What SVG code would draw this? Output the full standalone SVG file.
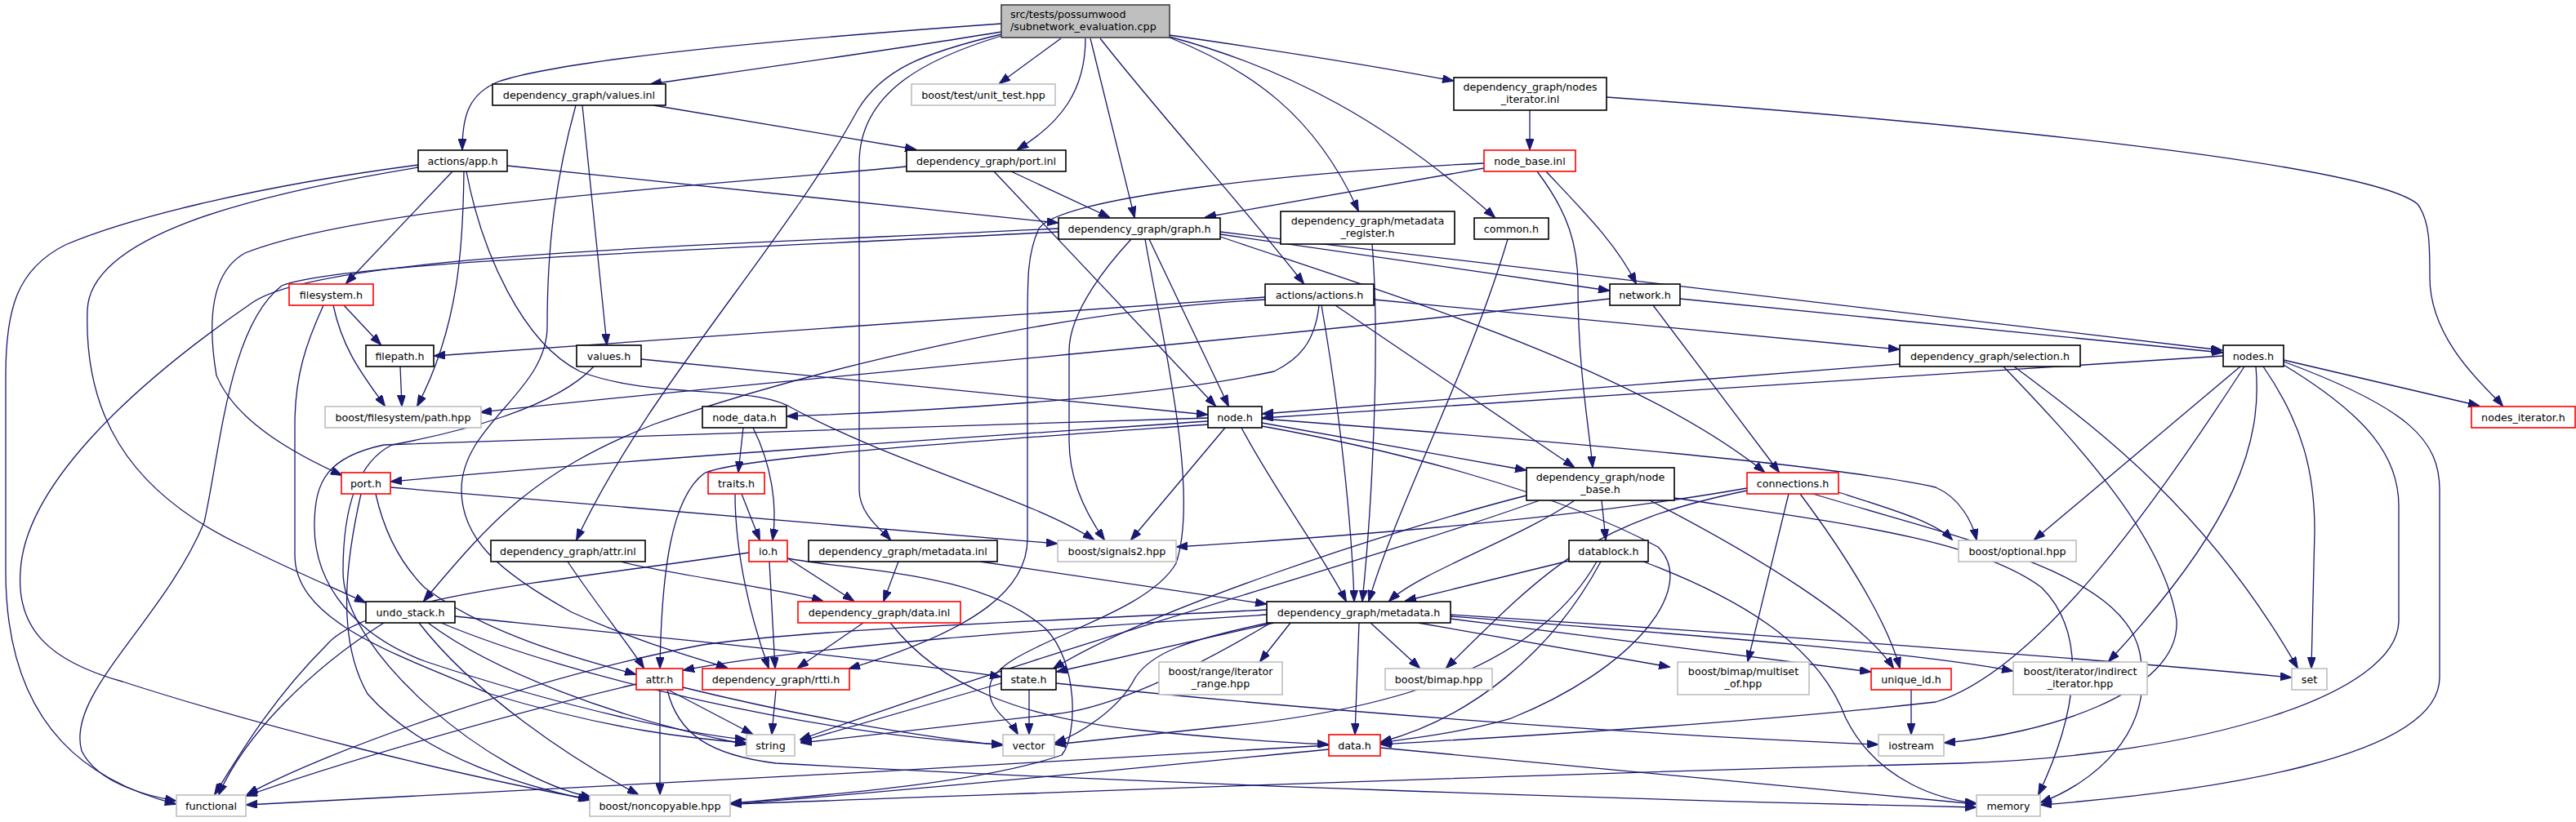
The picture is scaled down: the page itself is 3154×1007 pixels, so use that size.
<svg xmlns="http://www.w3.org/2000/svg" width="3154" height="1007" viewBox="0 0 3154 1007">
<defs>
<marker id="a" markerUnits="userSpaceOnUse" markerWidth="14" markerHeight="10" refX="13" refY="5" orient="auto"><path d="M0,0 L14,5 L0,10 z" fill="#191970" stroke="#191970" stroke-width="1"/></marker>
<style>
.n rect{fill:#fff;stroke:#000;stroke-width:1.6}
.g rect{fill:#fff;stroke:#bfbfbf;stroke-width:1.6}
.r rect{fill:#fff;stroke:#ff0000;stroke-width:1.6}
text{font-family:"DejaVu Sans","Liberation Sans",sans-serif;font-size:12.7px;fill:#000;text-anchor:middle}
#edges path{fill:none;stroke:#191970;stroke-width:1.3;marker-end:url(#a)}
</style>
</defs>
<rect width="3154" height="1007" fill="#fff"/>
<g id="edges">
<path d="M1226,29 C1000,45 700,70 610,100 C575,115 566,140 566,183"/>
<path d="M1226,39 C1100,60 900,88 797,103"/>
<path d="M1226,42 C1130,65 1080,85 1050,135 C960,300 790,480 706,661"/>
<path d="M1226,44 C1140,70 1052,110 1052,200 L1052,600 C1052,630 1080,650 1090,661"/>
<path d="M1299,47 L1224,102"/>
<path d="M1329,47 C1329,110 1300,150 1246,183"/>
<path d="M1335,47 L1389,266"/>
<path d="M1347,47 C1420,140 1520,250 1596,347"/>
<path d="M1432,43 C1550,60 1680,80 1779,99"/>
<path d="M1432,45 C1580,85 1700,150 1830,266"/>
<path d="M1432,46 C1530,85 1610,140 1663,258"/>
<path d="M621,203 L1295,273"/>
<path d="M554,210 L424,347"/>
<path d="M568,210 C567,300 562,400 511,497"/>
<path d="M571,210 C590,310 640,420 710,455 C800,490 920,470 970,500 C1100,570 1260,610 1339,661"/>
<path d="M512,205 C300,240 110,290 107,380 C103,500 150,600 300,670 C360,700 420,725 447,738"/>
<path d="M512,202 C300,230 150,270 80,300 C20,330 7,380 7,460 L7,700 C7,900 120,960 215,985"/>
<path d="M800,129 L1121,183"/>
<path d="M713,129 L743,422"/>
<path d="M705,129 C680,220 670,300 670,400 C670,480 565,520 565,600 C565,660 610,700 700,750 C790,790 860,808 890,818"/>
<path d="M1238,210 L1358,266"/>
<path d="M1217,210 L1488,497"/>
<path d="M1110,204 C900,225 450,250 300,310 C255,335 255,400 265,460 C290,520 370,560 418,582"/>
<path d="M1407,293 L1504,497"/>
<path d="M1385,293 C1360,320 1309,380 1309,430 L1309,540 C1309,590 1330,630 1352,661"/>
<path d="M1402,293 C1420,400 1470,600 1440,690 C1400,760 1220,790 1212,840 C1208,870 1235,880 1246,899"/>
<path d="M1494,290 C1700,360 2000,450 2160,578"/>
<path d="M1494,287 L1970,356"/>
<path d="M1494,284 L2720,429"/>
<path d="M1296,280 C900,300 400,310 310,370 C150,480 30,600 25,700 C20,770 60,810 150,835 C320,890 560,950 721,979"/>
<path d="M1296,284 C900,305 420,320 345,350 C280,400 270,550 250,640 C200,760 80,850 100,920 C120,960 180,975 215,981"/>
<path d="M1873,135 L1873,183"/>
<path d="M1967,119 C2400,150 2900,200 2960,250 C2975,270 2975,300 2975,340 C2975,420 3050,480 3064,497"/>
<path d="M1817,206 L1476,266"/>
<path d="M1817,200 C1600,210 1300,240 1272,280 C1258,310 1258,340 1258,400 L1258,660 C1258,720 1200,770 1040,819"/>
<path d="M1893,210 C1940,260 1980,300 2003,347"/>
<path d="M1882,210 C1920,260 1932,300 1932,350 C1932,450 1945,520 1950,572"/>
<path d="M1680,299 C1690,420 1680,620 1668,736"/>
<path d="M1846,293 C1800,450 1710,620 1676,736"/>
<path d="M1520,524 C1560,600 1620,680 1648,736"/>
<path d="M1618,374 C1640,500 1655,640 1658,736"/>
<path d="M1928,613 C1860,660 1740,700 1701,736"/>
<path d="M1921,687 L1721,736"/>
<path d="M1200,688 L1550,740"/>
<path d="M421,374 L466,422"/>
<path d="M408,374 C420,430 445,460 471,497"/>
<path d="M396,374 C375,420 361,460 361,520 L361,680 C361,760 480,800 600,850 C750,895 850,905 913,910"/>
<path d="M1549,364 L532,436"/>
<path d="M1549,367 C1300,380 1000,450 800,520 C650,580 600,640 519,736"/>
<path d="M1615,374 C1610,420 1590,440 1560,455 C1400,490 1100,505 964,510"/>
<path d="M1635,374 L1927,572"/>
<path d="M1682,367 L2325,428"/>
<path d="M1971,366 C1500,420 900,470 589,505"/>
<path d="M2057,366 L2721,432"/>
<path d="M2024,374 L2178,578"/>
<path d="M490,449 L492,497"/>
<path d="M785,440 L1478,508"/>
<path d="M727,449 C680,500 560,530 480,545 C430,570 420,640 420,700 C420,800 600,950 724,977"/>
<path d="M2326,446 L1546,507"/>
<path d="M2466,449 C2560,520 2700,620 2813,818"/>
<path d="M2453,449 C2550,550 2650,660 2665,760 C2670,850 2500,900 2381,910"/>
<path d="M2722,436 L1546,512"/>
<path d="M2743,449 L2491,661"/>
<path d="M2748,449 C2650,600 2500,820 2370,860 C2100,890 1800,905 1691,912"/>
<path d="M2762,449 C2770,540 2740,640 2582,810"/>
<path d="M2771,449 C2820,520 2834,580 2834,650 L2830,818"/>
<path d="M2796,447 C2900,510 2937,560 2937,620 L2937,760 C2937,850 2700,925 2400,935 C1800,950 1200,975 895,985"/>
<path d="M2796,443 C2950,500 2987,540 2987,600 L2987,830 C2987,930 2700,970 2499,986"/>
<path d="M2796,441 L3035,497"/>
<path d="M910,524 L904,578"/>
<path d="M922,524 C945,570 952,620 946,661"/>
<path d="M908,605 L930,661"/>
<path d="M900,605 C900,680 920,760 941,818"/>
<path d="M942,688 L949,818"/>
<path d="M963,683 L1045,736"/>
<path d="M917,677 C700,710 450,730 400,790 C330,860 290,930 263,973"/>
<path d="M964,684 C1050,700 1200,700 1280,770 C1320,810 1320,900 1300,925 C1200,960 1000,975 895,984"/>
<path d="M1100,688 L1082,736"/>
<path d="M1057,763 L977,818"/>
<path d="M1090,763 C1150,840 1250,880 1400,895 C1500,905 1580,910 1626,912"/>
<path d="M695,688 C730,740 770,790 788,818"/>
<path d="M760,688 C800,700 950,720 1007,736"/>
<path d="M470,763 C380,820 300,900 268,973"/>
<path d="M557,755 C800,780 1100,810 1225,829"/>
<path d="M513,763 C580,850 700,930 781,973"/>
<path d="M524,763 C600,820 750,880 913,912"/>
<path d="M540,763 C700,830 1000,900 1227,912"/>
<path d="M478,597 L1294,666"/>
<path d="M460,605 C470,650 490,690 520,720 C600,780 720,810 778,826"/>
<path d="M442,605 C425,680 410,780 450,850 C520,930 650,965 722,980"/>
<path d="M1479,516 C1200,535 800,560 479,590"/>
<path d="M1479,512 C1200,522 700,535 470,545 C400,560 386,590 385,640 C383,720 440,780 520,810 C700,870 850,900 913,906"/>
<path d="M1479,520 C1200,540 900,560 862,580 C822,610 810,700 808,818"/>
<path d="M1500,524 L1385,661"/>
<path d="M1545,518 L1868,576"/>
<path d="M1545,513 C1900,540 2250,570 2370,597 C2400,610 2415,640 2420,661"/>
<path d="M1545,522 C1700,550 1900,600 2030,670 C2080,720 2000,820 1850,880 C1780,900 1720,905 1691,910"/>
<path d="M1961,613 L1966,661"/>
<path d="M2050,610 C2250,640 2420,660 2500,720 C2560,780 2540,880 2496,973"/>
<path d="M2020,613 C2150,680 2280,760 2318,818"/>
<path d="M1869,607 C1700,650 1400,750 1290,819"/>
<path d="M1885,613 C1700,680 1300,790 980,906"/>
<path d="M2251,603 C2320,625 2370,640 2390,661"/>
<path d="M2139,598 C1900,640 1600,660 1441,670"/>
<path d="M2139,601 C1950,640 1900,690 1771,818"/>
<path d="M2190,605 L2140,810"/>
<path d="M2204,605 C2260,680 2310,760 2326,818"/>
<path d="M2220,605 C2400,660 2600,700 2620,800 C2640,900 2560,960 2499,983"/>
<path d="M1960,688 C1900,800 1800,880 1691,909"/>
<path d="M1955,688 C1880,820 1700,870 1500,890 C1400,900 1330,908 1292,912"/>
<path d="M2012,688 C2150,740 2230,800 2260,880 C2300,960 2380,980 2419,984"/>
<path d="M1551,753 C1300,770 1000,790 837,821"/>
<path d="M1551,747 C1300,760 1000,770 860,790 C650,830 400,920 303,973"/>
<path d="M1560,763 L1294,823"/>
<path d="M1553,763 C1450,785 1410,800 1390,830 C1370,870 1320,900 1292,910"/>
<path d="M1580,763 L1543,810"/>
<path d="M1678,763 L1738,818"/>
<path d="M1664,763 L1659,899"/>
<path d="M1736,763 L2044,817"/>
<path d="M1776,758 L2290,823"/>
<path d="M1776,755 C2100,780 2350,800 2464,822"/>
<path d="M1776,753 C2200,780 2600,810 2805,830"/>
<path d="M1556,763 C1460,820 1360,868 1290,875 C1150,890 1050,902 981,910"/>
<path d="M1627,913 C1200,940 700,965 302,986"/>
<path d="M1627,918 C1400,940 1100,970 895,985"/>
<path d="M1690,916 L2419,985"/>
<path d="M2340,845 L2340,899"/>
<path d="M1293,837 C1600,870 2000,900 2299,912"/>
<path d="M1226,837 L981,908"/>
<path d="M1260,845 L1260,899"/>
<path d="M950,845 L945,899"/>
<path d="M818,845 L921,899"/>
<path d="M808,845 L808,973"/>
<path d="M779,838 C600,880 400,940 302,975"/>
<path d="M817,845 C830,900 870,925 950,935 C1400,960 2000,980 2419,989"/>
<path d="M836,842 C950,870 1100,900 1227,913"/>
</g>
<g id="root"><rect x="1226" y="6" width="206" height="40" fill="#bfbfbf" stroke="#404040" stroke-width="1.6"/><text x="1237" y="21.8" style="text-anchor:start">src/tests/possumwood</text><text x="1237" y="37.2" style="text-anchor:start">/subnetwork_evaluation.cpp</text></g>
<g id="app" class="n"><rect x="512" y="184" width="109" height="26"/><text x="566.5" y="201.5">actions/app.h</text></g>
<g id="valinl" class="n"><rect x="603" y="103" width="212" height="26"/><text x="709" y="120.5">dependency_graph/values.inl</text></g>
<g id="unittest" class="g"><rect x="1116" y="103" width="176" height="26"/><text x="1204" y="120.5">boost/test/unit_test.hpp</text></g>
<g id="portinl" class="n"><rect x="1110" y="184" width="195" height="26"/><text x="1207.5" y="201.5">dependency_graph/port.inl</text></g>
<g id="graph" class="n"><rect x="1296" y="267" width="198" height="26"/><text x="1395" y="284.5">dependency_graph/graph.h</text></g>
<g id="nodesitinl" class="n"><rect x="1780" y="95" width="187" height="40"/><text x="1873.5" y="110.8">dependency_graph/nodes</text><text x="1873.5" y="126.2">_iterator.inl</text></g>
<g id="nodebaseinl" class="r"><rect x="1817" y="184" width="112" height="26"/><text x="1873" y="201.5">node_base.inl</text></g>
<g id="metareg" class="n"><rect x="1568" y="259" width="213" height="40"/><text x="1674.5" y="274.8">dependency_graph/metadata</text><text x="1674.5" y="290.2">_register.h</text></g>
<g id="common" class="n"><rect x="1805" y="267" width="91" height="26"/><text x="1850.5" y="284.5">common.h</text></g>
<g id="filesystem" class="r"><rect x="354" y="348" width="103" height="26"/><text x="405.5" y="365.5">filesystem.h</text></g>
<g id="actions" class="n"><rect x="1549" y="348" width="133" height="26"/><text x="1615.5" y="365.5">actions/actions.h</text></g>
<g id="network" class="n"><rect x="1971" y="348" width="86" height="26"/><text x="2014" y="365.5">network.h</text></g>
<g id="filepath" class="n"><rect x="448" y="423" width="83" height="26"/><text x="489.5" y="440.5">filepath.h</text></g>
<g id="values" class="n"><rect x="706" y="423" width="79" height="26"/><text x="745.5" y="440.5">values.h</text></g>
<g id="selection" class="n"><rect x="2326" y="423" width="221" height="26"/><text x="2436.5" y="440.5">dependency_graph/selection.h</text></g>
<g id="nodes" class="n"><rect x="2722" y="423" width="74" height="26"/><text x="2759" y="440.5">nodes.h</text></g>
<g id="path" class="g"><rect x="398" y="498" width="191" height="26"/><text x="493.5" y="515.5">boost/filesystem/path.hpp</text></g>
<g id="nodedata" class="n"><rect x="860" y="498" width="103" height="26"/><text x="911.5" y="515.5">node_data.h</text></g>
<g id="node" class="n"><rect x="1479" y="498" width="66" height="26"/><text x="1512" y="515.5">node.h</text></g>
<g id="nodesit" class="r"><rect x="3026" y="498" width="127" height="26"/><text x="3089.5" y="515.5">nodes_iterator.h</text></g>
<g id="port" class="r"><rect x="418" y="579" width="60" height="26"/><text x="448" y="596.5">port.h</text></g>
<g id="traits" class="r"><rect x="867" y="579" width="69" height="26"/><text x="901.5" y="596.5">traits.h</text></g>
<g id="nodebase" class="n"><rect x="1869" y="573" width="181" height="40"/><text x="1959.5" y="588.8">dependency_graph/node</text><text x="1959.5" y="604.2">_base.h</text></g>
<g id="connections" class="r"><rect x="2139" y="579" width="112" height="26"/><text x="2195" y="596.5">connections.h</text></g>
<g id="attrinl" class="n"><rect x="601" y="662" width="189" height="26"/><text x="695.5" y="679.5">dependency_graph/attr.inl</text></g>
<g id="io" class="r"><rect x="917" y="662" width="47" height="26"/><text x="940.5" y="679.5">io.h</text></g>
<g id="metainl" class="n"><rect x="990" y="662" width="231" height="26"/><text x="1105.5" y="679.5">dependency_graph/metadata.inl</text></g>
<g id="signals" class="g"><rect x="1295" y="662" width="145" height="26"/><text x="1367.5" y="679.5">boost/signals2.hpp</text></g>
<g id="datablock" class="n"><rect x="1921" y="662" width="97" height="26"/><text x="1969.5" y="679.5">datablock.h</text></g>
<g id="optional" class="g"><rect x="2398" y="662" width="144" height="26"/><text x="2470" y="679.5">boost/optional.hpp</text></g>
<g id="undo" class="n"><rect x="448" y="737" width="109" height="26"/><text x="502.5" y="754.5">undo_stack.h</text></g>
<g id="datainl" class="r"><rect x="977" y="737" width="199" height="26"/><text x="1076.5" y="754.5">dependency_graph/data.inl</text></g>
<g id="metadata" class="n"><rect x="1551" y="737" width="225" height="26"/><text x="1663.5" y="754.5">dependency_graph/metadata.h</text></g>
<g id="attr" class="r"><rect x="779" y="819" width="57" height="26"/><text x="807.5" y="836.5">attr.h</text></g>
<g id="rtti" class="r"><rect x="860" y="819" width="180" height="26"/><text x="950" y="836.5">dependency_graph/rtti.h</text></g>
<g id="state" class="n"><rect x="1226" y="819" width="67" height="26"/><text x="1259.5" y="836.5">state.h</text></g>
<g id="range" class="g"><rect x="1419" y="811" width="151" height="40"/><text x="1494.5" y="826.8">boost/range/iterator</text><text x="1494.5" y="842.2">_range.hpp</text></g>
<g id="bimap" class="g"><rect x="1696" y="819" width="131" height="26"/><text x="1761.5" y="836.5">boost/bimap.hpp</text></g>
<g id="multiset" class="g"><rect x="2054" y="811" width="161" height="40"/><text x="2134.5" y="826.8">boost/bimap/multiset</text><text x="2134.5" y="842.2">_of.hpp</text></g>
<g id="uniqueid" class="r"><rect x="2291" y="819" width="98" height="26"/><text x="2340" y="836.5">unique_id.h</text></g>
<g id="indirect" class="g"><rect x="2465" y="811" width="164" height="40"/><text x="2547" y="826.8">boost/iterator/indirect</text><text x="2547" y="842.2">_iterator.hpp</text></g>
<g id="set" class="g"><rect x="2806" y="819" width="43" height="26"/><text x="2827.5" y="836.5">set</text></g>
<g id="string" class="g"><rect x="914" y="900" width="59" height="26"/><text x="943.5" y="917.5">string</text></g>
<g id="vector" class="g"><rect x="1228" y="900" width="63" height="26"/><text x="1259.5" y="917.5">vector</text></g>
<g id="datah" class="r"><rect x="1627" y="900" width="63" height="26"/><text x="1658.5" y="917.5">data.h</text></g>
<g id="iostream" class="g"><rect x="2300" y="900" width="80" height="26"/><text x="2340" y="917.5">iostream</text></g>
<g id="functional" class="g"><rect x="216" y="974" width="85" height="26"/><text x="258.5" y="991.5">functional</text></g>
<g id="noncopyable" class="g"><rect x="722" y="974" width="172" height="26"/><text x="808" y="991.5">boost/noncopyable.hpp</text></g>
<g id="memory" class="g"><rect x="2420" y="974" width="78" height="26"/><text x="2459" y="991.5">memory</text></g>
</svg>
